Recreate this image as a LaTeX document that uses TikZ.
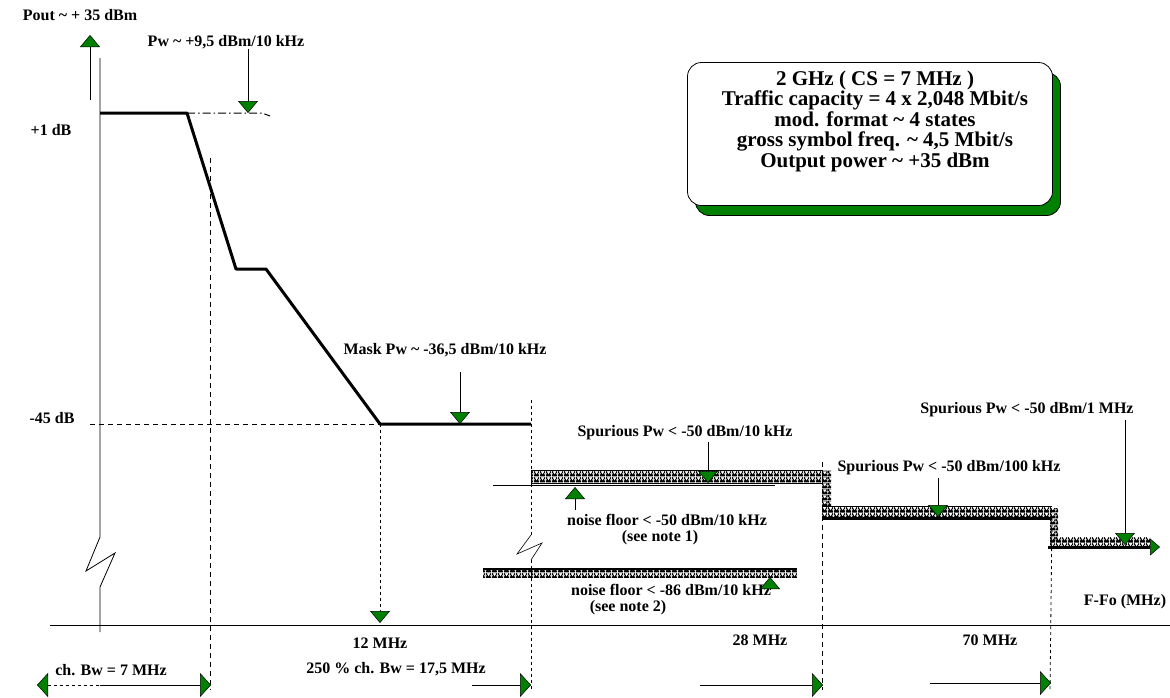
\documentclass[tikz,border=0pt]{standalone}
\usepackage{fontspec}
\setmainfont{Liberation Serif}
\usetikzlibrary{arrows.meta,patterns,shadows}
\definecolor{tgreen}{RGB}{0,128,0}
\pgfdeclarepatternformonly{sawband}{\pgfpointorigin}{\pgfqpoint{6pt}{6pt}}{\pgfqpoint{6pt}{6pt}}{
	\pgfseteorule
	\pgfpathrectangle{\pgfpointorigin}{\pgfqpoint{6pt}{6pt}}
	\pgfpathmoveto{\pgfqpoint{0.6pt}{5.4pt}}
	\pgfpathlineto{\pgfqpoint{5.4pt}{5.4pt}}
	\pgfpathlineto{\pgfqpoint{3pt}{1.6pt}}
	\pgfpathclose
	\pgfpathmoveto{\pgfqpoint{0pt}{0.6pt}}
	\pgfpathlineto{\pgfqpoint{1.6pt}{3.2pt}}
	\pgfpathlineto{\pgfqpoint{0pt}{3.2pt}}
	\pgfpathclose
	\pgfpathmoveto{\pgfqpoint{6pt}{0.6pt}}
	\pgfpathlineto{\pgfqpoint{4.4pt}{3.2pt}}
	\pgfpathlineto{\pgfqpoint{6pt}{3.2pt}}
	\pgfpathclose
	\pgfusepath{fill}
}
\tikzset{
	lbl/.style={font=\bfseries\fontsize{16}{17}\selectfont, inner sep=0pt},
	mask/.style={line width=3pt, line join=round},
	guide/.style={dashed, line width=1pt, dash pattern=on 5pt off 4pt},
	pointer/.style={line width=0.6pt, -{Triangle[length=12pt,width=20pt,fill=tgreen,line width=0.5pt]}},
	dimtip/.tip={Triangle[length=11pt,width=24pt,fill=tgreen,line width=0.5pt]},
	band/.style={pattern=sawband, pattern color=black},
	infobox/.style={draw=black, fill=white, rounded corners=14pt,
		minimum width=365pt, minimum height=143pt, line width=0.8pt,
		drop shadow={shadow xshift=8pt, shadow yshift=-10pt, fill=tgreen, draw=black, opacity=1}},
	infotext/.style={align=center, inner sep=0pt, font=\bfseries\fontsize{21}{20.5}\selectfont},
}
\begin{document}
\begin{tikzpicture}[x=1pt,y=-1pt]
	\useasboundingbox (0,0) rectangle (1170,697);
	%axis
	\coordinate (ytop) at (100,58);
	\coordinate (ybot) at (100,632);
	\draw[line width=0.8pt] (ytop) -- (100,537) -- (86,571) -- (115,553) -- (100,587) -- (ybot);
	\draw[line width=1pt] (50,625) -- (1170,625);
	\node[lbl] (pout) at (80,15) {Pout \textasciitilde{} + 35 dBm};
	\coordinate (poutTip) at (90,35);
	\draw[pointer] (90,100) -- (poutTip);
	\node[lbl] (fafo) at (1125,602) {F-Fo (MHz)};
	%level labels
	\node[lbl] (plus1) at (51,130) {+1 dB};
	\node[lbl] (minus45) at (52,418) {-45 dB};
	\draw[guide] (90,424) -- (380,424);
	%mask
	\draw[mask] (100,113) coordinate (m0) -- (187,113) coordinate (m1) -- (236,269) -- (266,269) -- (380,424) coordinate (m4) -- (531,424) coordinate (m5);
	\draw[dash pattern=on 8pt off 3pt on 1.5pt off 3pt, line width=1pt] (m1) -- (262,113) -- (270,116);
	\node[lbl] (pwtop) at (226,42) {Pw \textasciitilde{} +9,5 dBm/10 kHz};
	\coordinate (pwTip) at (248,113);
	\draw[pointer] (pwtop.south -| pwTip) -- (pwTip);
	\node[lbl] (maskpw) at (445,350) {Mask Pw \textasciitilde{} -36,5 dBm/10 kHz};
	\coordinate (maskTip) at (460,424);
	\draw[pointer] (460,372) -- (maskTip);
	%frequency guides
	\draw[guide] (210,158) -- (210,690);
	\draw[dashed, line width=0.8pt, -{Triangle[length=12pt,width=20pt,fill=tgreen,line width=0.5pt]}] (m4) -- (380,623) coordinate (f12);
	\draw[dashed, line width=0.8pt] (531,400) -- (531,535);
	\draw[line width=0.6pt] (531,535) -- (517,554) -- (542,543) -- (531,560);
	\draw[dashed, line width=0.8pt] (531,560) -- (531,690);
	\draw[guide] (822,462) -- (822,690);
	\draw[dashed, line width=0.8pt] (1052,518) -- (1050,690);
	%spurious bands
	\draw[band, line width=0.8pt] (531,470) rectangle (822,483);
	\draw[line width=0.8pt] (493,485) -- (775,485);
	\fill[band] (822,470) rectangle (831,506);
	\fill[band] (822,506) rectangle (1052,516);
	\draw[line width=0.8pt] (822,506) -- (1052,506);
	\draw[mask] (822,518) -- (1052,518);
	\fill[band] (1050,508) rectangle (1058,540);
	\fill[band] (1050,537) rectangle (1150,545);
	\draw[line width=3pt, -{Triangle[length=10pt,width=17pt,fill=tgreen,line width=0.5pt]}] (1048,547) -- (1160,547);
	\fill[band] (483,570) rectangle (797,577);
	\draw[line width=2pt] (483,569) -- (797,569);
	%spurious labels
	\node[lbl] (spur10) at (685,433) {Spurious Pw < -50 dBm/10 kHz};
	\coordinate (spur10Tip) at (708,483);
	\draw[pointer] (708,442) -- (spur10Tip);
	\node[lbl] (spur100) at (949,468) {Spurious Pw < -50 dBm/100 kHz};
	\coordinate (spur100Tip) at (938,517);
	\draw[pointer] (938,478) -- (spur100Tip);
	\node[lbl] (spur1M) at (1027,410) {Spurious Pw < -50 dBm/1 MHz};
	\coordinate (spur1MTip) at (1125,545);
	\draw[pointer] (1125,420) -- (spur1MTip);
	%noise floor labels
	\node[lbl] (noise1) at (667,520) {noise floor < -50 dBm/10 kHz};
	\node[lbl] (note1) at (660,538) {(see note 1)};
	\coordinate (noise1Tip) at (575,487);
	\draw[pointer] (575,510) -- (noise1Tip);
	\node[lbl] (noise2) at (671,590) {noise floor < -86 dBm/10 kHz};
	\node[lbl] (note2) at (628,608) {(see note 2)};
	\coordinate (noise2Tip) at (770,577);
	\draw[pointer] (770,589) -- (noise2Tip);
	%bandwidth arrows
	\node[lbl] (mhz12) at (380,643) {12 MHz};
	\node[lbl] (bw7) at (111,670) {ch. Bw = 7 MHz};
	\coordinate (bwL) at (37,685);
	\coordinate (bwM) at (100,685);
	\coordinate (bwR) at (211,685);
	\draw[dashed, line width=0.8pt, {dimtip}-] (bwL) -- (bwM);
	\draw[line width=0.8pt, -{dimtip}] (bwM) -- (bwR);
	\node[lbl] (bw175) at (396,669) {250 \% ch. Bw = 17,5 MHz};
	\draw[line width=0.8pt, -{dimtip}] (472,685) -- (531,685);
	\node[lbl] (mhz28) at (760,640) {28 MHz};
	\draw[line width=0.8pt, -{dimtip}] (700,685) -- (823,685);
	\node[lbl] (mhz70) at (990,640) {70 MHz};
	\draw[line width=0.8pt, -{dimtip}] (930,683) -- (1051,683);
	%info box
	\node[infobox] (info) at (870,134) {};
	\node[infotext] (infotxt) at (875,121) {2 GHz ( CS = 7 MHz )\\Traffic capacity = 4 x 2,048 Mbit/s\\mod. format \textasciitilde{} 4 states\\gross symbol freq. \textasciitilde{} 4,5 Mbit/s\\Output power \textasciitilde{} +35 dBm};
\end{tikzpicture}
\end{document}
